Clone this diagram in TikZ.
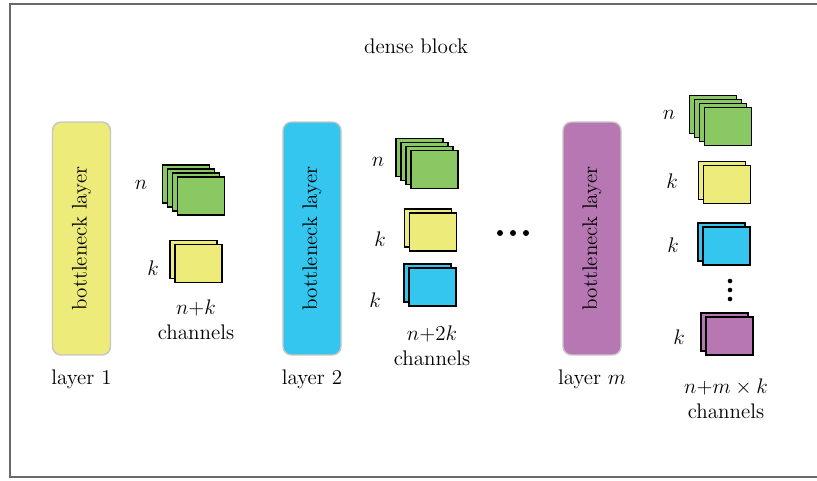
\documentclass[tikz,border=0pt]{standalone}
\usepackage{tikz}
\usetikzlibrary{positioning}

\definecolor{mapgreen}{RGB}{137,200,99}
\definecolor{mapyellow}{RGB}{237,235,122}
\definecolor{mapcyan}{RGB}{52,198,238}
\definecolor{mappurple}{RGB}{182,119,179}
\definecolor{framegray}{RGB}{105,105,105}

\tikzset{
	plate/.style={draw=black, line width=0.9pt, minimum width=0.94cm, minimum height=0.76cm, inner sep=0pt},
	bottleneck/.style={draw=gray!45, line width=0.8pt, rounded corners=0.17cm, rotate=90, minimum width=4.66cm, minimum height=1.16cm, inner sep=0pt, font=\large},
	lbl/.style={font=\large, inner sep=0pt},
	dot/.style={fill=black}
}

% feature maps: name, x, y of front plate, number of plates, colour
\newcommand{\fmapstack}[5]{%
	\foreach \i in {#4,...,2}
		\node[plate, fill=#5] at ({#2-(\i-1)*5},{#3-(\i-1)*4}) {};
	\node[plate, fill=#5] (#1) at (#2,#3) {};
}

\begin{document}
\begin{tikzpicture}[x=0.02cm, y=-0.02cm]
	
	\useasboundingbox (0,0) rectangle (817,480);
	\draw[framegray, line width=1.2pt] (830,4) -- (10,4) -- (10,477) -- (830,477);
	
	\node[lbl] (title) at (416,46) {dense block};
	
	% bottleneck layers
	\node[bottleneck, fill=mapyellow] (bl1) at (81.5,238.5) {bottleneck layer};
	\node[bottleneck, fill=mapcyan] (bl2) at (312,238.5) {bottleneck layer};
	\node[bottleneck, fill=mappurple] (blm) at (592,238.5) {bottleneck layer};
	
	\node[lbl] (l1) at (81.5,379) {layer 1};
	\node[lbl] (l2) at (312,379) {layer 2};
	\node[lbl] (lm) at (592,379) {layer $m$};
	
	% layer 1 output
	\fmapstack{a1}{201}{196}{4}{mapgreen}
	\fmapstack{a2}{198.5}{263.5}{2}{mapyellow}
	\node[lbl] (an) at (141,185) {$n$};
	\node[lbl] (ak) at (153,268) {$k$};
	\node[lbl, align=center] (ac) at (196,320) {$n{+}k$\\channels};
	
	% layer 2 output
	\fmapstack{b1}{434.5}{169.5}{4}{mapgreen}
	\fmapstack{b2}{433}{232}{2}{mapyellow}
	\fmapstack{b3}{432.5}{287}{2}{mapcyan}
	\node[lbl] (bn) at (378,162) {$n$};
	\node[lbl] (bk1) at (380,239) {$k$};
	\node[lbl] (bk2) at (375,300) {$k$};
	\node[lbl, align=center] (bc) at (432,346) {$n{+}2k$\\channels};
	
	% dots between layers
	\foreach \x in {500,513,526}
		\fill[dot] (\x,233) circle (3);
	
	% layer m output
	\fmapstack{c1}{728}{126.5}{4}{mapgreen}
	\fmapstack{c2}{727}{184.5}{2}{mapyellow}
	\fmapstack{c3}{726.5}{246}{2}{mapcyan}
	\fmapstack{c4}{729.5}{336}{2}{mappurple}
	\node[lbl] (cn) at (669,115) {$n$};
	\node[lbl] (ck1) at (672,181) {$k$};
	\node[lbl] (ck2) at (673,245) {$k$};
	\node[lbl] (ck3) at (679,337) {$k$};
	\foreach \y in {281,290,299}
		\fill[dot] (730,\y) circle (2.3);
	\node[lbl, align=center] (cc) at (726,399) {$n{+}m\times k$\\channels};
	
\end{tikzpicture}
\end{document}
